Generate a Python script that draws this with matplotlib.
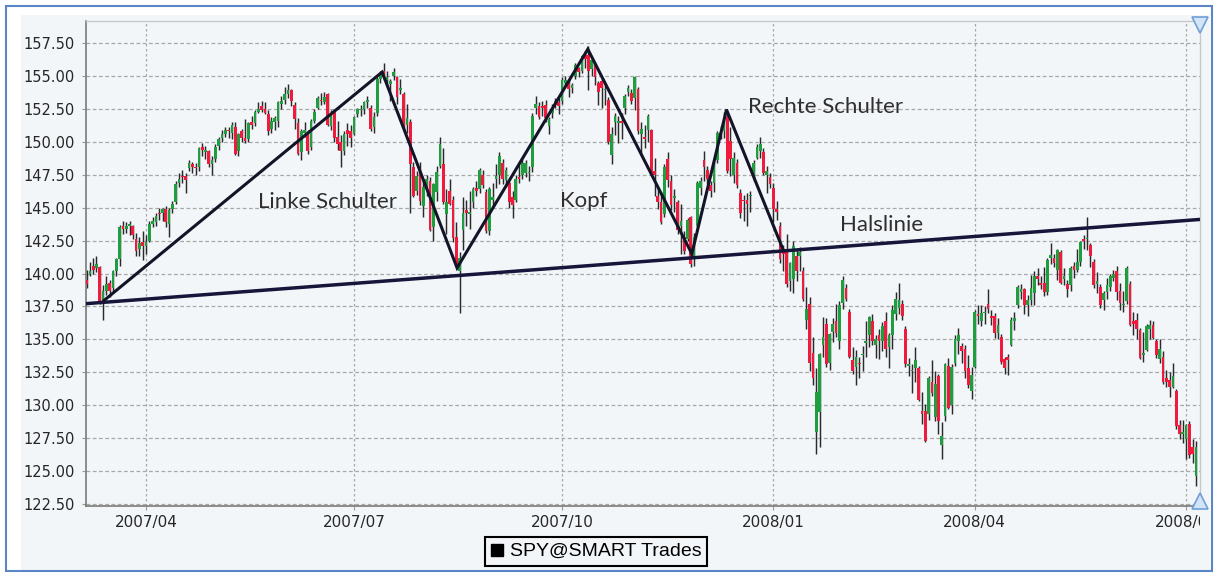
import matplotlib
matplotlib.use('Agg')
import matplotlib.pyplot as plt
from matplotlib.patches import Rectangle
from matplotlib.lines import Line2D
from matplotlib.transforms import Bbox, TransformedBbox
import numpy as np

# ---------------- data (daily SPY candles, index = trading day) ----------------
opens = [
    139.5, 140.0, 140.6, 140.4, 140.5, 137.9, 138.7, 139.3, 138.9, 140.2, 141.1, 143.6, 143.4, 143.6, 143.6, 142.6, 141.9, 142.4,
    142.1, 142.5, 143.8, 143.9, 144.6, 144.6, 144.9, 143.8, 144.9, 145.4, 146.9, 147.4, 147.4, 148.0, 148.3, 148.1, 148.1, 149.6, 149.2, 149.3,
    148.3, 148.7, 149.7, 150.3, 150.6, 150.9, 150.7, 151.1, 149.3, 150.8, 150.3, 150.2, 151.5, 151.4, 152.3, 152.7, 152.5, 152.1, 151.0, 151.5, 151.6, 152.9,
    153.2, 153.6, 153.9, 152.8, 151.4, 149.2, 150.7, 150.6, 149.6, 151.6, 152.6, 153.2, 153.0, 153.6, 151.2, 152.3, 150.4, 150.0, 149.3, 150.9, 150.8,
    150.6, 152.1, 152.4, 152.5, 153.0, 152.6, 151.1, 152.2, 154.8, 155.4, 154.7, 154.4, 155.0, 154.9, 153.9, 153.6, 151.3, 151.5, 148.1, 146.3, 148.0,
    145.1, 146.6, 147.0, 143.5, 146.2, 148.2, 148.3, 144.5, 146.3, 145.6, 142.8, 140.2, 143.3, 144.8, 144.5, 145.4, 146.5, 146.4, 147.5, 146.2, 143.2, 145.6, 147.2,
    147.5, 148.4, 147.1, 146.9, 145.8, 145.6, 147.3, 147.5, 147.6, 147.6, 148.1, 152.6, 152.7, 152.7, 152.8, 151.2, 152.2, 152.8, 153.0,
    153.1, 154.5, 154.5, 154.1, 155.0, 155.6, 155.4, 156.6, 156.6, 155.5, 155.8, 154.5, 154.6, 153.9, 153.2, 149.0, 151.5, 151.4, 151.6, 152.6, 153.8, 153.7, 153.3,
    154.0, 150.6, 150.4, 150.9, 150.9, 147.8, 145.9, 145.4, 144.5, 148.7, 147.0, 145.7, 145.4, 143.6, 142.8, 142.6, 144.3, 141.3, 143.6, 146.5, 148.6,
    147.9, 146.7, 146.9, 148.6, 150.7, 150.8, 151.9, 150.1, 147.5, 148.4, 146.1, 145.6, 145.6, 145.9, 147.4, 148.8, 149.3, 149.2, 147.5, 147.3,
    146.5, 144.9, 143.6, 141.8, 141.9, 139.4, 139.6, 141.3, 141.3, 140.2, 136.5, 137.7, 134.0, 128.0, 129.5, 134.6, 136.2, 133.2, 135.6, 136.4, 134.9,
    137.8, 138.9, 137.1, 133.4, 132.9, 133.2, 133.8, 134.7, 135.3, 136.4, 134.6, 135.3, 134.9, 136.4, 134.4, 135.3, 136.9, 137.4, 137.7, 135.8,
    133.0, 132.6, 132.8, 132.8, 129.6, 129.6, 129.3, 131.8, 129.1, 132.2, 127.0, 129.2, 133.0, 130.0, 133.2, 134.9, 134.5, 134.3, 132.8, 131.1,
    132.9, 136.9, 136.4, 137.0, 137.7, 136.8, 136.8, 135.5, 135.2, 133.5, 133.7, 134.6, 136.4, 137.6, 138.6, 138.8, 137.6, 138.0, 138.5, 139.8, 139.3, 139.3,
    138.6, 141.2, 141.2, 140.3, 141.6, 139.6, 139.2, 139.1, 140.6, 140.3, 140.9, 142.6, 142.6, 142.2, 140.9, 139.2, 139.0, 138.0, 138.6, 139.0, 139.7,
    140.2, 138.7, 137.6, 137.9, 139.2, 136.4, 136.5, 135.7, 133.8, 134.2, 135.8, 136.1, 134.9, 133.5, 133.7, 132.1, 131.9, 131.4, 131.1, 128.5, 127.8,
    127.4, 128.6, 126.8, 124.6,
]
highs = [
    140.3, 140.9, 141.2, 141.3, 140.6, 139.1, 139.8, 139.5, 140.3, 141.2, 143.7, 144.0, 143.9, 144.0, 143.7, 143.1, 142.8, 143.2,
    142.9, 144.0, 144.3, 144.6, 145.0, 145.0, 145.1, 145.0, 145.5, 147.0, 147.6, 147.9, 147.6, 148.6, 148.5, 148.4, 149.6, 149.9, 149.7, 149.4,
    148.9, 149.8, 150.4, 150.9, 151.1, 151.1, 151.5, 151.5, 150.7, 151.0, 151.7, 151.5, 152.0, 152.4, 153.0, 153.1, 153.0, 152.4, 151.9, 152.0, 153.1, 153.5,
    154.2, 154.4, 154.0, 153.0, 151.8, 151.0, 151.5, 150.9, 151.7, 152.5, 153.5, 153.7, 153.8, 153.7, 152.4, 152.5, 151.6, 150.5, 150.8, 151.4, 151.3,
    152.0, 152.6, 152.8, 153.1, 153.5, 152.8, 152.3, 154.9, 155.4, 156.0, 155.4, 154.8, 155.6, 155.0, 154.8, 153.8, 152.9, 151.7, 148.5, 147.8, 148.5,
    147.1, 147.5, 147.3, 146.9, 148.2, 150.4, 149.5, 146.4, 147.2, 145.9, 143.9, 141.6, 145.8, 145.6, 146.3, 146.6, 147.0, 148.0, 147.9, 146.4, 146.6, 146.9, 148.3,
    149.2, 148.7, 148.1, 147.0, 146.3, 147.5, 148.3, 148.7, 148.6, 148.2, 152.2, 153.5, 153.0, 153.1, 153.2, 151.9, 152.9, 153.3, 153.3,
    154.9, 155.0, 154.7, 154.5, 156.0, 155.7, 156.6, 156.9, 157.3, 156.4, 155.9, 154.6, 154.8, 154.5, 153.4, 151.1, 152.2, 152.0, 152.2, 153.6, 154.3, 154.0, 155.0,
    154.2, 151.5, 151.3, 152.1, 151.0, 148.8, 146.6, 146.2, 148.3, 149.2, 147.5, 146.4, 145.6, 145.3, 143.2, 144.2, 144.4, 143.1, 147.0, 147.3, 149.3,
    148.2, 147.0, 148.7, 150.8, 151.2, 152.3, 152.3, 151.1, 149.2, 148.7, 146.4, 146.0, 146.1, 146.3, 148.6, 149.8, 150.4, 149.5, 148.2, 147.6,
    146.9, 145.5, 143.9, 142.2, 143.0, 140.9, 142.5, 141.8, 142.0, 140.5, 139.0, 138.2, 135.2, 132.8, 134.0, 136.7, 136.6, 135.5, 136.6, 137.7, 137.9,
    139.8, 139.2, 137.3, 134.4, 134.2, 133.7, 134.5, 136.4, 136.8, 136.9, 135.3, 135.8, 136.3, 137.1, 135.5, 137.6, 138.6, 139.3, 138.0, 136.0,
    133.6, 133.1, 134.4, 133.0, 131.0, 130.1, 132.2, 133.4, 132.6, 132.4, 128.7, 133.2, 133.6, 133.1, 135.3, 135.9, 134.7, 134.6, 133.8, 132.9,
    137.2, 137.6, 137.6, 137.5, 138.8, 137.2, 137.0, 136.6, 135.4, 133.7, 133.9, 136.7, 137.1, 139.1, 139.2, 138.9, 138.4, 139.9, 140.2, 140.4, 139.8, 140.5,
    141.2, 142.3, 141.5, 141.9, 141.8, 140.4, 139.5, 140.6, 140.9, 141.9, 142.5, 142.9, 144.3, 142.3, 141.1, 140.1, 139.2, 138.7, 139.7, 140.0, 140.3,
    140.6, 139.3, 138.7, 140.6, 139.4, 137.1, 137.0, 135.9, 135.6, 136.2, 136.5, 136.4, 135.0, 135.0, 134.1, 132.7, 132.5, 133.2, 131.2, 128.9, 128.9,
    128.6, 128.8, 127.4, 127.3,
]
lows = [
    138.9, 139.8, 140.0, 140.1, 137.7, 136.5, 138.4, 138.2, 138.7, 139.8, 140.6, 143.0, 143.1, 142.9, 142.6, 141.3, 141.3, 141.0,
    141.5, 142.4, 143.5, 143.6, 144.1, 144.0, 143.5, 142.8, 144.6, 145.3, 146.6, 146.9, 146.1, 147.8, 147.6, 147.5, 147.8, 148.9, 148.7, 148.1,
    147.5, 148.5, 149.4, 150.0, 150.4, 150.3, 150.2, 149.0, 148.9, 150.0, 149.9, 150.0, 151.0, 151.2, 152.2, 152.3, 152.1, 150.5, 150.7, 150.9, 151.1, 152.5,
    152.9, 153.3, 152.7, 151.0, 149.0, 148.6, 150.4, 149.1, 149.4, 151.4, 152.5, 152.8, 152.9, 151.2, 150.9, 150.0, 149.4, 148.1, 149.0, 149.7, 149.6,
    150.5, 151.9, 152.0, 152.1, 152.6, 150.8, 150.7, 152.0, 154.5, 154.7, 154.3, 153.1, 154.7, 152.9, 153.6, 150.8, 150.7, 144.6, 145.8, 146.0, 145.2,
    144.3, 145.9, 143.2, 142.5, 145.5, 148.0, 145.3, 143.0, 145.2, 142.4, 140.5, 137.0, 141.8, 143.6, 143.4, 145.0, 145.9, 146.1, 146.5, 143.1, 142.9, 145.1, 146.5,
    146.8, 146.8, 146.6, 145.0, 144.2, 145.4, 146.9, 147.2, 147.3, 147.0, 147.7, 152.1, 151.7, 152.0, 151.5, 150.6, 151.8, 152.6, 152.1,
    152.9, 154.3, 153.4, 153.7, 154.8, 154.9, 155.2, 155.6, 153.9, 155.0, 154.3, 152.8, 152.6, 152.8, 149.8, 148.3, 150.5, 149.9, 150.2, 152.1, 153.5, 152.9, 152.4,
    150.6, 149.1, 149.5, 150.0, 147.5, 145.9, 144.9, 143.8, 144.3, 146.6, 144.8, 144.7, 143.0, 141.5, 141.5, 142.5, 140.5, 140.6, 143.2, 146.0, 147.0,
    146.8, 145.8, 146.2, 148.4, 150.2, 150.3, 147.6, 147.4, 146.9, 146.5, 144.2, 144.0, 143.6, 144.7, 147.0, 148.7, 148.8, 147.5, 146.1, 146.5,
    143.9, 144.1, 140.8, 140.2, 139.0, 138.7, 138.5, 139.4, 140.2, 137.9, 135.8, 132.6, 131.5, 126.3, 126.8, 133.7, 132.9, 132.7, 134.8, 135.2, 134.3,
    137.3, 137.9, 133.6, 132.4, 131.5, 132.1, 132.6, 133.7, 134.4, 134.6, 133.6, 133.5, 134.1, 133.7, 132.8, 134.3, 136.5, 136.9, 136.5, 132.9,
    132.2, 130.9, 131.8, 130.3, 128.6, 127.2, 128.9, 130.7, 128.8, 127.8, 125.9, 128.8, 129.7, 129.3, 133.0, 133.9, 133.2, 132.1, 131.3, 130.5,
    132.8, 136.2, 136.0, 136.2, 137.0, 136.1, 135.1, 135.0, 133.1, 132.4, 132.3, 134.5, 135.7, 137.4, 138.1, 136.9, 136.8, 137.6, 137.6, 139.1, 138.8, 138.3,
    138.4, 140.7, 140.5, 139.5, 139.2, 139.1, 138.2, 138.7, 139.7, 140.1, 140.6, 141.9, 141.8, 140.5, 138.9, 138.5, 137.4, 137.2, 138.1, 138.7, 139.4,
    138.0, 137.2, 137.1, 137.7, 136.0, 135.3, 135.0, 133.5, 133.3, 134.1, 135.0, 135.0, 133.6, 133.2, 131.6, 131.4, 130.6, 131.3, 128.2, 127.4, 127.1,
    125.9, 126.0, 125.6, 123.9,
]
closes = [
    139.2, 140.2, 140.3, 140.7, 137.8, 138.7, 139.2, 138.7, 140.2, 141.1, 143.5, 143.4, 143.6, 143.8, 142.9, 141.7, 142.3, 142.1,
    142.4, 143.8, 144.0, 144.4, 144.5, 144.9, 143.9, 144.8, 145.3, 146.8, 147.2, 147.3, 147.1, 148.4, 148.1, 148.0, 149.5, 149.4, 149.4, 148.3,
    148.6, 149.6, 150.2, 150.6, 150.9, 150.8, 151.3, 149.1, 150.6, 150.3, 150.1, 151.4, 151.3, 152.3, 152.5, 152.4, 152.2, 150.8, 151.6, 151.8, 153.0, 153.1,
    153.6, 153.9, 153.1, 151.7, 149.1, 150.8, 150.9, 149.3, 151.6, 152.3, 153.3, 153.1, 153.4, 151.3, 152.2, 150.3, 149.8, 149.3, 150.6, 150.6, 150.3,
    151.9, 152.5, 152.5, 153.0, 153.2, 151.0, 151.9, 154.8, 155.2, 154.9, 154.9, 154.6, 155.3, 153.4, 154.1, 151.1, 151.8, 148.3, 145.9, 147.4, 145.5,
    146.6, 147.2, 143.3, 146.8, 147.7, 149.8, 145.4, 145.4, 145.3, 142.7, 140.7, 141.2, 144.6, 144.6, 144.7, 146.4, 146.3, 147.9, 146.7, 143.2, 146.4, 145.8, 147.4,
    148.9, 147.2, 147.9, 145.4, 145.2, 147.2, 147.2, 148.4, 148.4, 147.7, 152.0, 152.9, 151.9, 152.6, 151.8, 151.7, 152.5, 153.1, 152.7,
    154.7, 154.7, 154.0, 154.3, 155.8, 155.3, 156.5, 156.3, 155.4, 156.2, 154.9, 153.8, 154.1, 154.0, 150.0, 150.6, 152.0, 151.6, 151.4, 153.5, 154.1, 153.1, 154.9,
    150.8, 151.0, 150.2, 152.0, 147.6, 147.5, 145.4, 143.9, 148.1, 147.1, 145.2, 145.9, 143.3, 144.0, 141.7, 144.1, 140.7, 142.8, 146.9, 147.0, 148.1,
    147.2, 146.3, 148.5, 150.7, 150.5, 151.6, 147.8, 148.7, 148.8, 146.7, 144.6, 145.5, 145.3, 146.0, 148.4, 149.6, 149.8, 147.6, 147.8, 146.8,
    144.9, 144.7, 141.1, 141.5, 139.2, 140.8, 142.1, 140.2, 141.6, 138.1, 137.3, 133.2, 132.1, 131.0, 133.9, 135.2, 133.1, 135.4, 136.2, 135.5, 137.6,
    139.5, 138.1, 133.7, 132.6, 133.7, 133.1, 133.9, 134.9, 136.7, 134.9, 135.0, 134.9, 136.0, 134.3, 135.3, 137.2, 138.1, 138.0, 136.8, 133.1,
    133.1, 132.7, 133.4, 130.4, 129.3, 127.3, 132.1, 130.9, 131.6, 128.8, 127.7, 133.1, 129.8, 132.9, 135.0, 135.3, 134.1, 132.6, 131.5, 132.3,
    137.1, 136.8, 137.0, 137.1, 137.3, 136.6, 135.5, 136.1, 133.3, 132.8, 133.4, 136.5, 136.6, 139.0, 138.8, 137.6, 138.0, 138.9, 139.8, 139.6, 139.1, 138.6,
    141.0, 141.4, 140.8, 141.8, 139.3, 139.8, 138.8, 140.4, 140.3, 140.9, 142.4, 142.5, 142.7, 141.3, 139.1, 139.4, 137.6, 138.5, 139.1, 139.8, 140.0,
    138.6, 137.8, 137.7, 140.4, 136.1, 136.2, 135.8, 133.6, 134.0, 136.0, 136.1, 135.1, 133.8, 134.3, 131.8, 131.8, 131.4, 132.2, 128.4, 127.8, 128.0,
    128.5, 126.2, 126.3, 126.8,
]

x_tick_pos = [18, 81, 144, 208, 269, 333]
x_tick_labels = ['2007/04', '2007/07', '2007/10', '2008/01', '2008/04', '2008/07']
y_ticks = [122.5, 125.0, 127.5, 130.0, 132.5, 135.0, 137.5, 140.0, 142.5, 145.0,
           147.5, 150.0, 152.5, 155.0, 157.5]

# pattern annotation (trading-day index, price)
zigzag_x = [5.3, 89.5, 112.2, 151.8, 183.3, 193.8, 210.9]
zigzag_y = [137.96, 155.3, 140.43, 157.04, 141.5, 152.45, 141.84]
neck_x = [-0.4, 337.2]
neck_y = [137.71, 144.11]
labels_text = ['Linke Schulter', 'Kopf', 'Rechte Schulter', 'Halslinie']
labels_x = [51.9, 143.4, 200.3, 228.2]
labels_y = [144.95, 145.05, 152.16, 143.2]
legend_label = 'SPY@SMART Trades'

# ---------------- figure ----------------
W, H = 1217, 575
fig = plt.figure(figsize=(W / 100, H / 100), dpi=100, facecolor='white')
panel_col = '#f3f6f9'
fig.add_artist(Rectangle((21 / W, 1 - 570 / H), (1210 - 21) / W, (570 - 15) / H,
                         transform=fig.transFigure, facecolor=panel_col, edgecolor='none', zorder=0))
fig.add_artist(Rectangle((6 / W, 1 - 571 / H), (1212 - 6) / W, (571 - 6) / H,
                         transform=fig.transFigure, fill=False, edgecolor='#5a86c6', lw=1.5, zorder=1))

ax = fig.add_axes([85.5 / W, 1 - 506 / H, (1200 - 85.5) / W, (506 - 20.7) / H])
ax.set_facecolor(panel_col)

o = np.array(opens); h = np.array(highs); l = np.array(lows); c = np.array(closes)
xs = np.arange(len(c))
up = c >= o
body_col = np.where(up, '#1f9e40', '#ef1a3c')
ax.vlines(xs, l, h, colors='#2a2a2a', lw=1.05, zorder=2)
ax.bar(xs, np.maximum(np.abs(c - o), 0.1), bottom=np.minimum(o, c), width=0.82,
       color=body_col, edgecolor='none', zorder=3)

ax.plot(neck_x, neck_y, color='#16163a', lw=2.5, zorder=5, solid_capstyle='butt')
ax.plot(zigzag_x, zigzag_y, color='#141428', lw=2.2, zorder=5, solid_joinstyle='miter')

for t, tx, ty in zip(labels_text, labels_x, labels_y):
    ax.text(tx, ty, t, fontsize=16, family='Lato', color='#2f2f2f', va='baseline', ha='left', zorder=6)

ax.set_xlim(-0.33, 337.2)
ax.set_ylim(122.35, 159.2)
ax.set_yticks(y_ticks)
ax.set_yticklabels(['%.2f' % v for v in y_ticks])
ax.set_xticks(x_tick_pos)
ax.set_xticklabels(x_tick_labels)
ax.tick_params(axis='y', length=3, color='#999999', pad=5, labelsize=10.5, labelcolor='#262626')
ax.tick_params(axis='x', length=3, color='#999999', pad=3.5, labelsize=11, labelcolor='#262626')
for lab in ax.get_xticklabels() + ax.get_yticklabels():
    lab.set_family('DejaVu Sans')

ax.set_axisbelow(True)
ax.grid(axis='y', color='#a8a8a8', linestyle=(0, (3, 2)), lw=0.9)
ax.grid(axis='x', color='#a8a8a8', linestyle=(0, (2, 2)), lw=0.9)
for s in ['left', 'bottom']:
    ax.spines[s].set_color('#7a7a7a'); ax.spines[s].set_linewidth(1.2)
for s in ['top', 'right']:
    ax.spines[s].set_color('#c8c8c8'); ax.spines[s].set_linewidth(1.0)

# scroll triangles on the right edge
fig.add_artist(Line2D([1200 / W], [1 - 25 / H], marker='v', markersize=11, markerfacecolor='#d3e4f7',
                      markeredgecolor='#6f9fd6', markeredgewidth=1.2, linestyle='None', transform=fig.transFigure))
fig.add_artist(Line2D([1200 / W], [1 - 501 / H], marker='^', markersize=11, markerfacecolor='#d3e4f7',
                      markeredgecolor='#6f9fd6', markeredgewidth=1.2, linestyle='None', transform=fig.transFigure))

handle = Line2D([], [], marker='s', color='black', linestyle='None', markersize=8)
leg = fig.legend([handle], [legend_label], loc='center', bbox_to_anchor=(596 / W, 1 - 551.5 / H),
                 frameon=True, fancybox=False, edgecolor='black', facecolor=panel_col, framealpha=1,
                 handlelength=0.7, handletextpad=0.3, borderpad=0.3, borderaxespad=0,
                 prop={'family': 'Liberation Sans', 'size': 14})
leg.get_frame().set_linewidth(1.5)

fig.canvas.draw()
clipbox = TransformedBbox(Bbox([[0, 0], [1200 / W, 1]]), fig.transFigure)
for lab in ax.get_xticklabels():
    lab.set_clip_on(True)
    lab.set_clip_box(clipbox)

fig.savefig('out.png', dpi=100, facecolor='white')
